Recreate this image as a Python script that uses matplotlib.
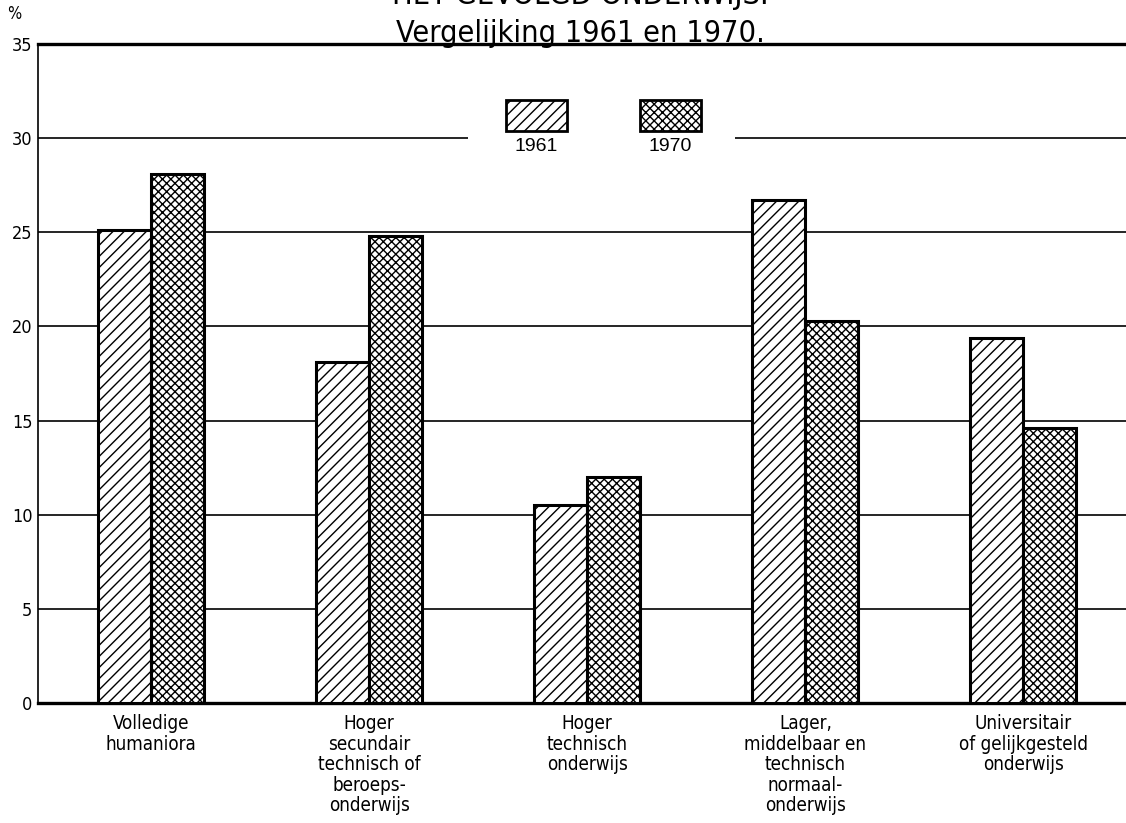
import matplotlib
matplotlib.use("Agg")
import matplotlib.pyplot as plt
from matplotlib.patches import Rectangle
from matplotlib import font_manager
from matplotlib.font_manager import FontProperties

categories = [
    "Volledige\nhumaniora",
    "Hoger\nsecundair\ntechnisch of\nberoeps-\nonderwijs",
    "Hoger\ntechnisch\nonderwijs",
    "Lager,\nmiddelbaar en\ntechnisch\nnormaal-\nonderwijs",
    "Universitair\nof gelijkgesteld\nonderwijs",
]
values_1961 = [25.1, 18.1, 10.5, 26.7, 19.4]
values_1970 = [28.1, 24.8, 12.0, 20.3, 14.6]
series_labels = ["1961", "1970"]
yticks = [0, 5, 10, 15, 20, 25, 30, 35]

# pick a condensed sans font file if available
cond_file = None
for pref in ["Liberation Sans Narrow", "DejaVu Sans", "Open Sans", "Roboto", "Noto Sans"]:
    for f in font_manager.fontManager.ttflist:
        if f.name == pref and f.style == "normal" and f.weight in (400, "normal", "regular") and \
                (f.stretch in ("condensed", "semi-condensed") or "Condensed" in f.fname or "Narrow" in f.fname):
            cond_file = f.fname
            break
    if cond_file:
        break

def cfp(size):
    if cond_file:
        return FontProperties(fname=cond_file, size=size)
    return FontProperties(family="DejaVu Sans", size=size)

reg = ["Liberation Sans", "DejaVu Sans"]

plt.rcParams['hatch.linewidth'] = 1.0
fig = plt.figure(figsize=(11.26, 8.23), dpi=100)
ax = fig.add_axes([38/1126, 1-703/823, 1-38/1126, (703-44)/823])

h61, h70 = "///", "xxxx"
w = 0.243
x = list(range(len(categories)))
ax.bar([i - w/2 for i in x], values_1961, width=w, facecolor="white", edgecolor="black",
       linewidth=2.2, hatch=h61, zorder=3)
ax.bar([i + w/2 for i in x], values_1970, width=w, facecolor="white", edgecolor="black",
       linewidth=2.2, hatch=h70, zorder=3)

ax.set_xlim(-0.518, 4.47)
ax.set_ylim(0, 35)
for y in yticks[1:-1]:
    ax.axhline(y, color="black", linewidth=1.2, zorder=1)

ax.spines["right"].set_visible(False)
ax.spines["top"].set_linewidth(2.4)
ax.spines["bottom"].set_linewidth(2.4)
ax.spines["left"].set_linewidth(1.2)

ax.set_yticks(yticks)
ax.set_yticklabels([str(v) for v in yticks], fontproperties=cfp(13))
ax.tick_params(axis="y", length=0, pad=4)
ax.set_xticks(x)
ax.set_xticklabels(categories, fontproperties=cfp(13.5), linespacing=1.1, va="top")
ax.tick_params(axis="x", length=0, pad=8)

# legend
ax.add_patch(Rectangle((1.454, 28.5), 1.225, 4.0, facecolor="white", edgecolor="none", zorder=2))
lw, lh = 0.28, 1.64
for cx, hatch, lab in [(1.766, h61, series_labels[0]), (2.381, h70, series_labels[1])]:
    ax.add_patch(Rectangle((cx - lw/2, 30.38), lw, lh, facecolor="white", edgecolor="black",
                           linewidth=2.0, hatch=hatch, zorder=4))
    ax.text(cx, 29.55, lab, ha="center", va="center", family=reg, fontsize=14, zorder=5)

fig.text(14/1126, 1-14/823, "%", ha="center", va="center", fontproperties=cfp(12))
fig.text(580/1126, 1-33/823, "Vergelijking 1961 en 1970.", ha="center", va="center",
         fontproperties=cfp(22))
fig.text(580/1126, 1+5/823, "HET GEVOLGD ONDERWIJS.", ha="center", va="center",
         fontproperties=cfp(22))

fig.savefig("out.png", dpi=100)
